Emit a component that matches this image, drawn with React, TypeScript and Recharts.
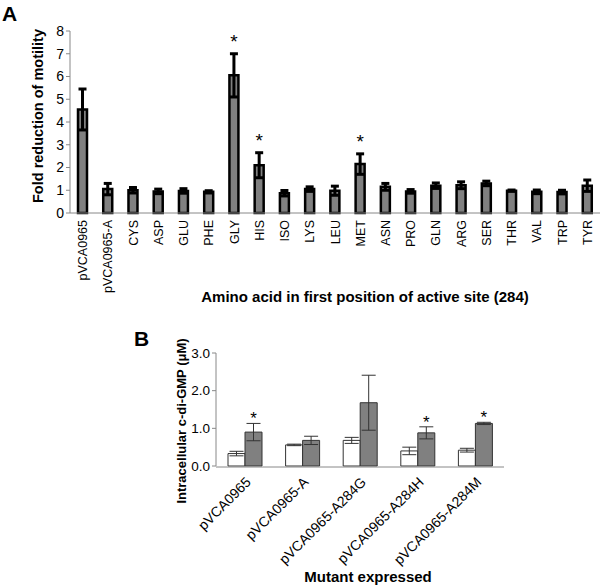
import { BarChart, Bar, XAxis, YAxis, ErrorBar, LabelList } from "recharts";

const FONT = "'Liberation Sans', Arial, sans-serif";

// Panel A
const aminoLabels = ["pVCA0965", "pVCA0965-A", "CYS", "ASP", "GLU", "PHE", "GLY", "HIS", "ISO", "LYS", "LEU", "MET", "ASN", "PRO", "GLN", "ARG", "SER", "THR", "VAL", "TRP", "TYR"];
const motility = [4.55, 1.05, 1.0, 0.95, 0.97, 0.93, 6.05, 2.1, 0.87, 1.05, 0.98, 2.15, 1.15, 0.95, 1.2, 1.22, 1.3, 0.98, 0.93, 0.92, 1.2];
const motilityErr = [0.9, 0.25, 0.12, 0.1, 0.1, 0.05, 0.95, 0.55, 0.12, 0.1, 0.2, 0.45, 0.15, 0.08, 0.12, 0.15, 0.1, 0.03, 0.08, 0.08, 0.25];
const motilitySig = [false, false, false, false, false, false, true, true, false, false, false, true, false, false, false, false, false, false, false, false, false];
const motilityTicks = [0, 1, 2, 3, 4, 5, 6, 7, 8];

// Panel B
const mutants = ["pVCA0965", "pVCA0965-A", "pVCA0965-A284G", "pVCA0965-A284H", "pVCA0965-A284M"];
const openValues = [0.33, 0.56, 0.68, 0.4, 0.42];
const openErr = [0.06, 0.02, 0.08, 0.1, 0.05];
const greyValues = [0.9, 0.68, 1.68, 0.88, 1.13];
const greyErr = [0.23, 0.11, 0.73, 0.16, 0.03];
const greySig = [true, false, false, true, true];
const cdgTicks = [0, 0.5, 1, 1.5, 2, 2.5, 3];
// category boundaries for the small tick marks under panel B
const groupEdges = [0, 1, 2, 3, 4, 5];

const dataA = aminoLabels.map((name, i) => ({ name, value: motility[i], err: motilityErr[i] }));
const dataB = mutants.map((name, i) => ({
  name,
  open: openValues[i],
  openErr: openErr[i],
  grey: greyValues[i],
  greyErr: greyErr[i],
}));

const TickA = (props: any) => {
  const { x, y, payload } = props;
  return (
    <text x={x + 4.5} y={y - 1} transform={`rotate(-90, ${x + 4.5}, ${y - 1})`} textAnchor="end" fontSize={12.5} fontFamily={FONT} fill="#000">
      {payload.value}
    </text>
  );
};

const TickB = (props: any) => {
  const { x, y, payload } = props;
  return (
    <text x={x + 7} y={y + 9} transform={`rotate(-45, ${x + 7}, ${y + 9})`} textAnchor="end" fontSize={14} fontFamily={FONT} fill="#000">
      {payload.value}
    </text>
  );
};

const starA = (props: any) => {
  const { x, y, width, height, value, index } = props;
  if (!motilitySig[index]) return null;
  const px = height / value;
  const top = y - motilityErr[index] * px;
  return (
    <text x={x + width / 2} y={top - 6} textAnchor="middle" fontSize={19} fontFamily={FONT} fill="#000">
      *
    </text>
  );
};

const starB = (props: any) => {
  const { x, y, width, height, value, index } = props;
  if (!greySig[index]) return null;
  const px = height / value;
  const top = y - greyErr[index] * px;
  return (
    <text x={x + width / 2} y={top + 1} textAnchor="middle" fontSize={17} fontFamily={FONT} fill="#000">
      *
    </text>
  );
};

export default function App() {
  return (
    <div style={{ position: "absolute", left: 0, top: 0, width: 600, height: 585, background: "#fff", fontFamily: FONT }}>
      <div style={{ position: "absolute", left: 0, top: 0 }}>
        <BarChart width={600} height={305} data={dataA} margin={{ top: 31, right: 0, left: 40, bottom: 0 }} barCategoryGap={0}>
          <XAxis dataKey="name" interval={0} tickLine={false} axisLine={{ stroke: "#888" }} height={92} tick={<TickA />} />
          <YAxis domain={[0, 8]} ticks={motilityTicks} width={30} tickSize={4} tickLine={{ stroke: "#888" }} axisLine={{ stroke: "#888" }} tick={{ fontSize: 14, fontFamily: FONT, fill: "#000" }} />
          <Bar dataKey="value" fill="#808080" stroke="#000" strokeWidth={2.5} barSize={9} isAnimationActive={false}>
            <ErrorBar dataKey="err" width={4} stroke="#000" strokeWidth={3} />
            <LabelList dataKey="value" content={starA} />
          </Bar>
        </BarChart>
      </div>
      <div style={{ position: "absolute", left: 0, top: 310 }}>
        <BarChart width={600} height={275} data={dataB} margin={{ top: 43, right: 96, left: 186, bottom: 0 }} barGap={0}>
          <XAxis dataKey="name" interval={0} tickLine={false} axisLine={false} height={1} tick={<TickB />} />
          <XAxis xAxisId="edges" type="number" domain={[0, 5]} ticks={groupEdges} height={118} tick={false} tickSize={4} tickLine={{ stroke: "#888" }} axisLine={{ stroke: "#888" }} />
          <YAxis domain={[0, 3]} ticks={cdgTicks} width={30} tickSize={4} tickLine={{ stroke: "#888" }} axisLine={{ stroke: "#888" }} tick={{ fontSize: 13.5, fontFamily: FONT, fill: "#000" }} tickFormatter={(v: number) => v.toFixed(1)} />
          <Bar dataKey="open" fill="#fff" stroke="#333" strokeWidth={1} barSize={17} isAnimationActive={false}>
            <ErrorBar dataKey="openErr" width={7} stroke="#333" strokeWidth={1} />
          </Bar>
          <Bar dataKey="grey" fill="#808080" stroke="#333" strokeWidth={1} barSize={17} isAnimationActive={false}>
            <ErrorBar dataKey="greyErr" width={7} stroke="#333" strokeWidth={1} />
            <LabelList dataKey="grey" content={starB} />
          </Bar>
        </BarChart>
      </div>
      <div style={{ position: "absolute", left: 2, top: 2, fontSize: 21, fontWeight: "bold" }}>A</div>
      <div style={{ position: "absolute", left: 134, top: 327, fontSize: 21, fontWeight: "bold" }}>B</div>
      <div style={{ position: "absolute", left: 38, top: 116, width: 0, height: 0 }}>
        <div style={{ position: "absolute", transform: "translate(-50%, -50%) rotate(-90deg)", whiteSpace: "nowrap", fontSize: 14.5, fontWeight: "bold" }}>
          Fold reduction of motility
        </div>
      </div>
      <div style={{ position: "absolute", left: 365, top: 296, width: 0, height: 0 }}>
        <div style={{ position: "absolute", transform: "translate(-50%, -50%)", whiteSpace: "nowrap", fontSize: 15, fontWeight: "bold" }}>
          Amino acid in first position of active site (284)
        </div>
      </div>
      <div style={{ position: "absolute", left: 181, top: 421, width: 0, height: 0 }}>
        <div style={{ position: "absolute", transform: "translate(-50%, -50%) rotate(-90deg)", whiteSpace: "nowrap", fontSize: 13, fontWeight: "bold" }}>
          Intracellular c-di-GMP (μM)
        </div>
      </div>
      <div style={{ position: "absolute", left: 368, top: 576, width: 0, height: 0 }}>
        <div style={{ position: "absolute", transform: "translate(-50%, -50%)", whiteSpace: "nowrap", fontSize: 15, fontWeight: "bold" }}>
          Mutant expressed
        </div>
      </div>
    </div>
  );
}
